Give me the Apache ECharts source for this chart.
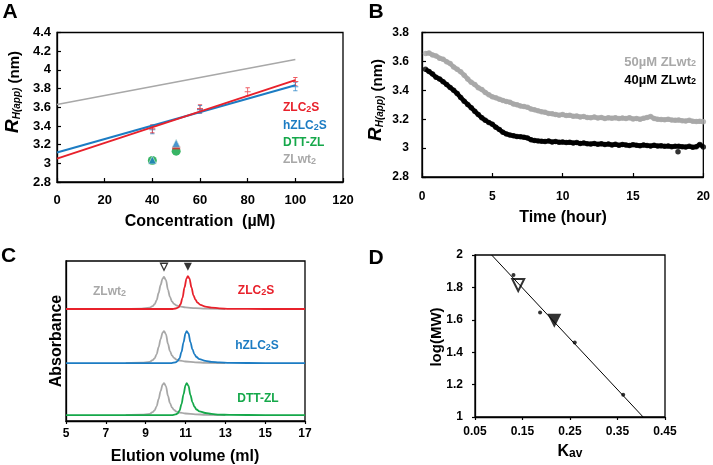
<!DOCTYPE html>
<html><head><meta charset="utf-8">
<script src="https://cdn.jsdelivr.net/npm/echarts@6/dist/echarts.min.js"></script>
<style>html,body{margin:0;padding:0;background:#fff}#c{width:713px;height:465px}</style>
</head><body><div id="c"></div>
<script>
// ---------- Panel A : R_H(app) vs concentration ----------
const concFit = [0, 100];
const fitZLC2S = [3.05, 3.89];
const fitHZLC2S = [3.115, 3.835];
const fitZLwt2 = [3.63, 4.11];
const concZLC2S = [40, 60, 80, 100];
const rhZLC2S = [3.37, 3.585, 3.765, 3.875];
const concHZLC2S = [40, 60, 100];
const rhHZLC2S = [3.36, 3.575, 3.82];
const concDTT = [40, 50];
const rhDTT = [3.03, 3.13];
const concZLC2Sb = [50];
const rhZLC2Sb = [3.165];
const concHZLC2Sb = [40, 50];
const rhHZLC2Sb = [3.035, 3.215];

// ---------- Panel B : R_H(app) vs time ----------
const timeB = [0.25,0.5,0.75,1,1.25,1.5,1.75,2,2.25,2.5,2.75,3,3.25,3.5,3.75,4,4.25,4.5,4.75,5,
  5.25,5.5,5.75,6,6.25,6.5,6.75,7,7.25,7.5,7.75,8,8.25,8.5,8.75,9,9.25,9.5,9.75,10,
  10.25,10.5,10.75,11,11.25,11.5,11.75,12,12.25,12.5,12.75,13,13.25,13.5,13.75,14,14.25,14.5,14.75,15,
  15.25,15.5,15.75,16,16.25,16.5,16.75,17,17.25,17.5,17.75,18,18.25,18.5,18.75,19,19.25,19.5,19.75,20];
const rh50 = [3.655,3.658,3.645,3.638,3.622,3.615,3.598,3.585,3.562,3.545,3.528,3.505,3.478,3.455,3.44,3.418,3.405,3.385,3.37,3.355,
  3.348,3.338,3.33,3.322,3.318,3.305,3.3,3.292,3.288,3.282,3.27,3.265,3.258,3.252,3.248,3.24,3.238,3.232,3.228,3.232,
  3.225,3.228,3.22,3.222,3.215,3.218,3.212,3.21,3.215,3.208,3.212,3.205,3.21,3.206,3.21,3.204,3.208,3.205,3.21,3.202,
  3.205,3.2,3.206,3.212,3.218,3.205,3.2,3.198,3.196,3.2,3.194,3.192,3.195,3.19,3.188,3.192,3.186,3.184,3.185,3.182];
const rh40 = [3.545,3.53,3.512,3.49,3.478,3.46,3.44,3.42,3.4,3.378,3.35,3.325,3.302,3.28,3.255,3.232,3.21,3.192,3.178,3.165,
  3.145,3.128,3.11,3.098,3.09,3.085,3.08,3.078,3.075,3.07,3.058,3.052,3.05,3.048,3.045,3.05,3.042,3.045,3.04,3.042,
  3.038,3.04,3.035,3.038,3.032,3.036,3.03,3.028,3.032,3.026,3.03,3.025,3.028,3.022,3.026,3.02,3.025,3.022,3.018,3.024,
  3.02,3.016,3.022,3.018,3.015,3.02,3.014,3.016,3.012,3.015,3.01,3.012,3.012,3.01,3.008,3.012,3.006,3.01,3.025,3.008];
const timeB40extra = [18.2];
const rh40extra = [2.975];

// ---------- Panel C : SEC elution profiles ----------
const volWt2 = [8.0, 8.8, 9.2, 9.35, 9.45, 9.55, 9.65, 9.75, 9.85, 9.92, 10.02, 10.12, 10.22, 10.32, 10.42, 10.55, 10.7, 11.0, 11.5, 12.0, 13.0];
const absWt2 = [0, 0.002, 0.008, 0.018, 0.03, 0.055, 0.1, 0.15, 0.19, 0.2, 0.18, 0.12, 0.075, 0.048, 0.032, 0.022, 0.016, 0.01, 0.005, 0.002, 0];
const volZLC2S = [5, 8, 10.3, 10.5, 10.65, 10.75, 10.85, 10.95, 11.05, 11.12, 11.2, 11.3, 11.4, 11.5, 11.6, 11.75, 12.0, 12.3, 12.7, 13.2, 15, 17];
const absZLC2S = [0, 0, 0, 0.003, 0.01, 0.03, 0.07, 0.135, 0.19, 0.205, 0.19, 0.135, 0.085, 0.058, 0.04, 0.026, 0.015, 0.009, 0.004, 0.001, 0, 0];
const volHZLC2S = [5, 8, 10.3, 10.5, 10.6, 10.7, 10.8, 10.9, 11.0, 11.06, 11.15, 11.25, 11.35, 11.45, 11.55, 11.7, 12.0, 12.3, 12.7, 13.2, 15, 17];
const absHZLC2S = [0, 0, 0, 0.005, 0.012, 0.03, 0.07, 0.13, 0.185, 0.2, 0.185, 0.13, 0.085, 0.055, 0.038, 0.025, 0.014, 0.008, 0.004, 0.001, 0, 0];
const volDTT = [5, 8, 10.3, 10.5, 10.6, 10.7, 10.8, 10.9, 11.0, 11.06, 11.15, 11.25, 11.35, 11.45, 11.55, 11.7, 12.0, 12.3, 12.7, 13.2, 15, 17];
const absDTT = [0, 0, 0, 0.004, 0.01, 0.028, 0.068, 0.13, 0.185, 0.2, 0.182, 0.125, 0.08, 0.052, 0.035, 0.023, 0.013, 0.007, 0.003, 0.001, 0, 0];
const offsetZLC2S = 0.70, offsetHZLC2S = 0.362, offsetDTT = 0.037;
const peakMarkVol = [9.92, 11.12];
const peakMarkLevel = 0.964;
const volTicks = [5, 7, 9, 11, 13, 15, 17];

// ---------- Panel D : calibration ----------
const kavStd = [0.131, 0.187, 0.26, 0.362];
const logMWStd = [1.876, 1.645, 1.46, 1.138];
const kavFit = [0.085, 0.404];
const logMWFit = [2.0, 1.0];
const kavWt2 = [0.141], logMWWt2 = [1.815];
const kavC2S = [0.217], logMWC2S = [1.594];
const kavTicks = [0.05, 0.15, 0.25, 0.35, 0.45];

// ---------- helpers ----------
const FONT = '"Liberation Sans", Arial, sans-serif';
const RED = '#e8212b', BLUE = '#1c7cc3', GREEN = '#15a84a', GRAY = '#a8a8a8';
const pairs = (xs, ys, off) => xs.map((x, i) => [x, ys[i] + (off || 0)]);
const fmt = v => String(Math.round(v * 100) / 100);

function ax(gi, o, lab, tick) {
  const a = {
    gridIndex: gi, type: 'value',
    axisLine: { show: true, onZero: false, lineStyle: { color: '#000', width: 1.3 } },
    axisTick: Object.assign({ show: true, inside: true, length: 4, lineStyle: { color: '#000', width: 1.2 } }, tick || {}),
    axisLabel: Object.assign({ color: '#000', fontWeight: 'bold', fontFamily: FONT, fontSize: 13, margin: 10,
      showMinLabel: true, showMaxLabel: true, formatter: fmt }, lab || {}),
    splitLine: { show: false }
  };
  return Object.assign(a, o);
}
function gridBox(left, top, width, height) {
  return { left, top, width, height, show: true, borderColor: '#000', borderWidth: 1.3, containLabel: false };
}
function txt(x, y, text, font, fill, extra) {
  return Object.assign({ type: 'text', x, y, silent: true,
    style: Object.assign({ text, font, fill: fill || '#000', align: 'center', verticalAlign: 'middle' }, (extra && extra.style) || {}) },
    (extra && extra.el) || {});
}
const sub = (size, col) => ({ fontSize: size, fontWeight: 'bold', fontFamily: FONT, fill: col, verticalAlign: 'bottom' });
const main = (size, col) => ({ fontSize: size, fontWeight: 'bold', fontFamily: FONT, fill: col, verticalAlign: 'bottom' });
function labelSub(x, y, a, b, c, col, size, align) {
  return { type: 'text', x, y, silent: true, style: {
    text: '{m|' + a + '}{s|' + b + '}' + (c ? '{m|' + c + '}' : ''),
    align: align || 'left', verticalAlign: 'middle',
    rich: { m: main(size, col), s: sub(Math.round(size * 0.72), col) } } };
}
function rTitle(x, y, sizeR, sizeS, sizeN) {
  return { type: 'text', x, y, rotation: Math.PI / 2, silent: true, style: {
    text: '{r|R}{s|H(app)}{n| (nm)}', align: 'center', verticalAlign: 'middle',
    rich: {
      r: { fontSize: sizeR, fontWeight: 'bold', fontStyle: 'italic', fontFamily: FONT, fill: '#000', verticalAlign: 'bottom' },
      s: { fontSize: sizeS, fontWeight: 'bold', fontStyle: 'italic', fontFamily: FONT, fill: '#000', verticalAlign: 'bottom' },
      n: { fontSize: sizeN, fontWeight: 'bold', fontFamily: FONT, fill: '#000', verticalAlign: 'bottom' }
    } } };
}
const plusSym = 'path://M3,0h1v10h-1zM1,0h5v1h-5zM1,9h5v1h-5zM0,4.4h7v1.2h-7z';

const chart = echarts.init(document.getElementById('c'), null, { renderer: 'canvas' });
chart.setOption({
  animation: false,
  backgroundColor: '#fff',
  grid: [
    gridBox(57, 32.5, 286, 149.5),
    gridBox(422, 32.5, 283, 144.5),
    gridBox(66, 261, 239, 160),
    gridBox(475, 255, 190, 162)
  ],
  xAxis: [
    ax(0, { min: 0, max: 120, interval: 20 }, { margin: 12 }),
    ax(1, { min: 0, max: 20, interval: 5 }, { fontSize: 12, margin: 14 }),
    ax(2, { min: 5, max: 17 }, { fontSize: 12, margin: 7, customValues: volTicks }, { inside: false, length: 3, customValues: volTicks }),
    ax(3, { min: 0.05, max: 0.45 }, { fontSize: 12, margin: 9, customValues: kavTicks }, { inside: false, length: 3, customValues: kavTicks })
  ],
  yAxis: [
    ax(0, { min: 2.8, max: 4.4, interval: 0.2 }, { margin: 6 }),
    ax(1, { min: 2.8, max: 3.8, interval: 0.2 }, { fontSize: 12, margin: 13 }),
    ax(2, { min: 0, max: 1 }, { show: false }, { show: false }),
    ax(3, { min: 1, max: 2, interval: 0.2 }, { fontSize: 12, margin: 12 }, { inside: false, length: 3 })
  ],
  series: [
    // A
    { type: 'line', xAxisIndex: 0, yAxisIndex: 0, data: pairs(concFit, fitZLwt2), showSymbol: false, lineStyle: { color: GRAY, width: 1.5 } },
    { type: 'line', xAxisIndex: 0, yAxisIndex: 0, data: pairs(concFit, fitHZLC2S), showSymbol: false, lineStyle: { color: BLUE, width: 2 } },
    { type: 'line', xAxisIndex: 0, yAxisIndex: 0, data: pairs(concFit, fitZLC2S), showSymbol: false, lineStyle: { color: RED, width: 2 } },
    { type: 'scatter', xAxisIndex: 0, yAxisIndex: 0, data: pairs(concHZLC2S, rhHZLC2S), symbol: plusSym, symbolSize: [6, 9], itemStyle: { color: BLUE, opacity: 0.75 } },
    { type: 'scatter', xAxisIndex: 0, yAxisIndex: 0, data: pairs(concZLC2S, rhZLC2S), symbol: plusSym, symbolSize: [6, 9], itemStyle: { color: RED, opacity: 0.75 } },
    { type: 'scatter', xAxisIndex: 0, yAxisIndex: 0, data: pairs(concDTT, rhDTT), symbol: 'circle', symbolSize: 9, itemStyle: { color: GREEN, opacity: 0.85 } },
    { type: 'scatter', xAxisIndex: 0, yAxisIndex: 0, data: pairs(concZLC2Sb, rhZLC2Sb), symbol: 'rect', symbolSize: [8, 3], itemStyle: { color: RED } },
    { type: 'scatter', xAxisIndex: 0, yAxisIndex: 0, data: pairs(concHZLC2Sb, rhHZLC2Sb), symbol: 'triangle', symbolSize: [8, 8], itemStyle: { color: BLUE, borderColor: '#cfe9dc', borderWidth: 0.8 } },
    // B
    { type: 'line', xAxisIndex: 1, yAxisIndex: 1, data: pairs(timeB, rh50), showSymbol: false, lineStyle: { color: GRAY, width: 4.5 } },
    { type: 'scatter', xAxisIndex: 1, yAxisIndex: 1, data: pairs(timeB, rh50), symbolSize: 5.5, itemStyle: { color: GRAY } },
    { type: 'line', xAxisIndex: 1, yAxisIndex: 1, data: pairs(timeB, rh40), showSymbol: false, lineStyle: { color: '#000', width: 4.5 } },
    { type: 'scatter', xAxisIndex: 1, yAxisIndex: 1, data: pairs(timeB, rh40).concat(pairs(timeB40extra, rh40extra)), symbolSize: 5.5, itemStyle: { color: '#000' } },
    // C
    { type: 'line', xAxisIndex: 2, yAxisIndex: 2, data: pairs(volWt2, absWt2, offsetZLC2S), showSymbol: false, smooth: 0.35, smoothMonotone: 'x', lineStyle: { color: GRAY, width: 1.8 } },
    { type: 'line', xAxisIndex: 2, yAxisIndex: 2, data: pairs(volWt2, absWt2, offsetHZLC2S), showSymbol: false, smooth: 0.35, smoothMonotone: 'x', lineStyle: { color: GRAY, width: 1.8 } },
    { type: 'line', xAxisIndex: 2, yAxisIndex: 2, data: pairs(volWt2, absWt2, offsetDTT), showSymbol: false, smooth: 0.35, smoothMonotone: 'x', lineStyle: { color: GRAY, width: 1.8 } },
    { type: 'line', xAxisIndex: 2, yAxisIndex: 2, data: pairs(volZLC2S, absZLC2S, offsetZLC2S), showSymbol: false, smooth: 0.35, smoothMonotone: 'x', lineStyle: { color: RED, width: 1.8 } },
    { type: 'line', xAxisIndex: 2, yAxisIndex: 2, data: pairs(volHZLC2S, absHZLC2S, offsetHZLC2S), showSymbol: false, smooth: 0.35, smoothMonotone: 'x', lineStyle: { color: BLUE, width: 1.8 } },
    { type: 'line', xAxisIndex: 2, yAxisIndex: 2, data: pairs(volDTT, absDTT, offsetDTT), showSymbol: false, smooth: 0.35, smoothMonotone: 'x', lineStyle: { color: GREEN, width: 1.8 } },
    { type: 'scatter', xAxisIndex: 2, yAxisIndex: 2, data: [[peakMarkVol[0], peakMarkLevel]], symbol: 'triangle', symbolRotate: 180, symbolSize: [7, 7], itemStyle: { color: '#fff', borderColor: '#000', borderWidth: 1.3 } },
    { type: 'scatter', xAxisIndex: 2, yAxisIndex: 2, data: [[peakMarkVol[1], peakMarkLevel]], symbol: 'triangle', symbolRotate: 180, symbolSize: [8, 8], itemStyle: { color: '#000' } },
    // D
    { type: 'line', xAxisIndex: 3, yAxisIndex: 3, data: pairs(kavFit, logMWFit), showSymbol: false, lineStyle: { color: '#000', width: 1 } },
    { type: 'scatter', xAxisIndex: 3, yAxisIndex: 3, data: pairs(kavStd, logMWStd), symbolSize: 4, itemStyle: { color: '#000' } },
    { type: 'scatter', xAxisIndex: 3, yAxisIndex: 3, data: pairs(kavWt2, logMWWt2), symbol: 'triangle', symbolRotate: 180, symbolSize: [12, 12], itemStyle: { color: '#fff', borderColor: '#000', borderWidth: 2 } },
    { type: 'scatter', xAxisIndex: 3, yAxisIndex: 3, data: pairs(kavC2S, logMWC2S), symbol: 'triangle', symbolRotate: 180, symbolSize: [14, 14], itemStyle: { color: '#000' } }
  ],
  graphic: [
    txt(10, 12.5, 'A', 'bold 21px ' + FONT),
    txt(376, 12, 'B', 'bold 21px ' + FONT),
    txt(8.5, 256.5, 'C', 'bold 21px ' + FONT),
    txt(376, 258.5, 'D', 'bold 21px ' + FONT),
    // A
    txt(200, 222, 'Concentration  (\u00b5M)', 'bold 16px ' + FONT),
    rTitle(12.5, 92, 19, 10, 15),
    labelSub(283, 108, 'ZLC', '2', 'S', RED, 12),
    labelSub(283, 126, 'hZLC', '2', 'S', BLUE, 12),
    { type: 'text', x: 283, y: 143, silent: true, style: { text: 'DTT-ZL', font: 'bold 12px ' + FONT, fill: GREEN, align: 'left', verticalAlign: 'middle' } },
    labelSub(283, 160, 'ZLwt', '2', '', GRAY, 12),
    // B
    txt(563, 218, 'Time (hour)', 'bold 16px ' + FONT),
    rTitle(376, 100, 19, 10, 15),
    labelSub(696, 62, '50\u00b5M ZLwt', '2', '', GRAY, 13, 'right'),
    labelSub(696, 80, '40\u00b5M ZLwt', '2', '', '#000', 13, 'right'),
    // C
    txt(185, 457, 'Elution volume (ml)', 'bold 16px ' + FONT),
    txt(57, 341, 'Absorbance', 'bold 16px ' + FONT, '#000', { el: { rotation: Math.PI / 2 } }),
    labelSub(93, 292, 'ZLwt', '2', '', GRAY, 12),
    labelSub(256, 291, 'ZLC', '2', 'S', RED, 12, 'center'),
    labelSub(257, 346, 'hZLC', '2', 'S', BLUE, 12, 'center'),
    { type: 'text', x: 258, y: 399, silent: true, style: { text: 'DTT-ZL', font: 'bold 12px ' + FONT, fill: GREEN, align: 'center', verticalAlign: 'middle' } },
    // D
    labelSub(570, 452, 'K', 'av', '', '#000', 16, 'center'),
    txt(437, 337, 'log(MW)', 'bold 15px ' + FONT, '#000', { el: { rotation: Math.PI / 2 } })
  ]
});
</script>
</body></html>
